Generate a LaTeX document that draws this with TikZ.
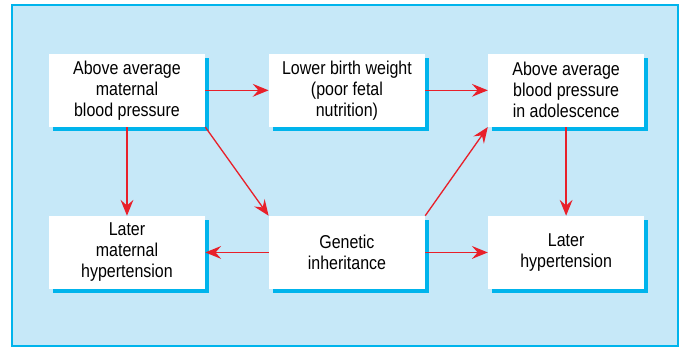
\documentclass[tikz,border=0pt]{standalone}
\usepackage{fontspec}
\setmainfont[FakeStretch=0.86]{Liberation Sans}
\usepackage{tikz}
\usetikzlibrary{arrows.meta, shadows}

\definecolor{panel}{HTML}{C6E8F8}
\definecolor{edge}{HTML}{00B4EC}
\definecolor{link}{HTML}{E8202A}

\begin{document}
\begin{tikzpicture}[
    >={Stealth[length=4.2mm, width=3.4mm, inset=1.5mm]},
    font=\fontsize{14}{15.8}\selectfont,
    box/.style={fill=white, align=center, inner sep=2pt, minimum width=4.13cm, minimum height=1.93cm,
        drop shadow={shadow xshift=0.1cm, shadow yshift=-0.1cm, fill=edge, opacity=1}},
    link/.style={->, draw=link, line width=1pt}
]

% --------------------------------------------------------------------------
% Panel
% --------------------------------------------------------------------------
\useasboundingbox (0,0) rectangle (18.02,-9.18);
\draw[draw=edge, fill=panel, line width=1.1pt] (0.32,-0.13) rectangle (17.94,-9.15);

% Top row
\node[box] (abovemat) at (3.36,-2.39) {Above average\\maternal\\blood pressure};
\node[box] (lowbirth) at (9.18,-2.39) {Lower birth weight\\(poor fetal\\nutrition)};
\node[box] (aboveado) at (14.98,-2.39) {Above average\\blood pressure\\in adolescence};

% Bottom row
\node[box] (latermat) at (3.36,-6.68) {Later\\maternal\\hypertension};
\node[box] (genetic) at (9.18,-6.68) {Genetic\\inheritance};
\node[box] (laterhyp) at (14.98,-6.68) {Later\\hypertension};

\draw[link] (abovemat.east) -- (lowbirth.west);
\draw[link] (lowbirth.east) -- (aboveado.west);
\draw[link] (abovemat.south) -- (latermat.north);
\draw[link] (abovemat.south east) -- (genetic.north west);
\draw[link] (genetic.north east) -- (aboveado.south west);
\draw[link] (aboveado.south) -- (laterhyp.north);
\draw[link] (genetic.west) -- (latermat.east);
\draw[link] (genetic.east) -- (laterhyp.west);

\end{tikzpicture}
\end{document}
